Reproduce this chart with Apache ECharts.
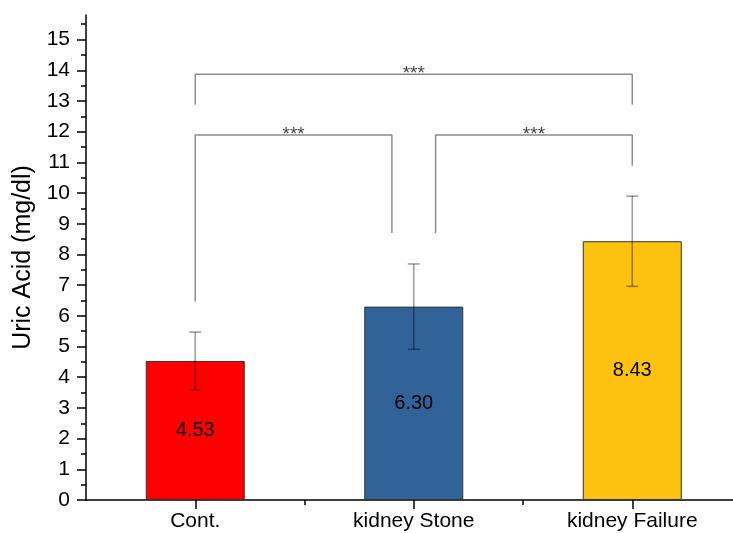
<!DOCTYPE html>
<html>
<head>
<meta charset="utf-8">
<title>Uric Acid</title>
<script src="https://cdn.jsdelivr.net/npm/echarts@6/dist/echarts.min.js"></script>
<style>
  html, body { margin: 0; padding: 0; background: #fff; }
  #chart { width: 733px; height: 533px; }
</style>
</head>
<body>
<div id="chart"></div>
<script>
// Group means and their spread
const categories = ['Cont.', 'kidney Stone', 'kidney Failure'];
const groupIndex = [0, 1, 2];
const means = [4.53, 6.30, 8.43];
const errors = [0.94, 1.39, 1.47];
const barColors = ['#FF0000', '#316399', '#FDC20F'];

// Axis ticks
const yMajorTicks = [0, 1, 2, 3, 4, 5, 6, 7, 8, 9, 10, 11, 12, 13, 14, 15];
const yMinorTicks = [0.5, 1.5, 2.5, 3.5, 4.5, 5.5, 6.5, 7.5, 8.5, 9.5, 10.5, 11.5, 12.5, 13.5, 14.5, 15.5];
const xMinorTicks = [0.5, 1.5];

// Significance brackets (x in group units, y in mg/dl)
const bracketFrom = [0, 1.1, 0];
const bracketTo = [0.9, 2, 2];
const bracketLevel = [11.89, 11.89, 13.87];
const bracketLeftFoot = [6.47, 8.70, 12.88];
const bracketRightFoot = [8.70, 10.89, 12.88];
const bracketText = ['***', '***', '***'];

const FONT = 'Liberation Sans';
const chart = echarts.init(document.getElementById('chart'), null, { renderer: 'canvas' });

const bracketSeries = bracketFrom.map((x0, i) => ({
  type: 'line',
  xAxisIndex: 0,
  yAxisIndex: 0,
  symbol: 'none',
  silent: true,
  z: 4,
  lineStyle: { color: '#8c8c8c', width: 1.5 },
  data: [
    [x0, bracketLeftFoot[i]],
    [x0, bracketLevel[i]],
    [bracketTo[i], bracketLevel[i]],
    [bracketTo[i], bracketRightFoot[i]]
  ]
}));

const starSeries = {
  type: 'scatter',
  xAxisIndex: 0,
  yAxisIndex: 0,
  symbolSize: 0,
  silent: true,
  z: 5,
  data: bracketFrom.map((x0, i) => ({
    value: [(x0 + bracketTo[i]) / 2, bracketLevel[i]],
    label: {
      show: true,
      position: 'inside',
      offset: [0, 0],
      formatter: bracketText[i],
      fontFamily: FONT,
      fontSize: 19,
      color: '#111'
    }
  }))
};

const errorSeries = {
  type: 'custom',
  xAxisIndex: 0,
  yAxisIndex: 0,
  z: 6,
  silent: true,
  data: means.map((m, i) => [groupIndex[i], m - errors[i], m + errors[i]]),
  renderItem: function (params, api) {
    const lo = api.coord([api.value(0), api.value(1)]);
    const hi = api.coord([api.value(0), api.value(2)]);
    const cap = 6;
    const style = { stroke: 'rgba(0,0,0,0.38)', lineWidth: 1.6 };
    return {
      type: 'group',
      children: [
        { type: 'line', shape: { x1: hi[0], y1: hi[1], x2: lo[0], y2: lo[1] }, style: style },
        { type: 'line', shape: { x1: hi[0] - cap, y1: hi[1], x2: hi[0] + cap, y2: hi[1] }, style: style },
        { type: 'line', shape: { x1: lo[0] - cap, y1: lo[1], x2: lo[0] + cap, y2: lo[1] }, style: style }
      ]
    };
  }
};

// The group axis runs on past the right edge of the canvas
const X_MIN = -0.5;
const X_MAX = 2.461;

const option = {
  backgroundColor: '#ffffff',
  animation: false,
  textStyle: { fontFamily: FONT },
  grid: { left: 86, top: 15, right: 0, bottom: 33, containLabel: false },
  xAxis: [
    {
      type: 'value',
      min: X_MIN,
      max: X_MAX,
      position: 'bottom',
      axisLine: { show: true, onZero: false, lineStyle: { color: '#000', width: 1.5 } },
      axisTick: { show: true, length: 9, customValues: groupIndex, lineStyle: { color: '#000', width: 1.5 } },
      axisLabel: {
        fontFamily: FONT, fontSize: 21, color: '#000', margin: 11,
        customValues: groupIndex,
        formatter: v => categories[Math.round(v)]
      },
      splitLine: { show: false }
    },
    {
      type: 'value',
      min: X_MIN,
      max: X_MAX,
      position: 'bottom',
      axisLine: { show: false, onZero: false },
      axisTick: { show: true, length: 5, customValues: xMinorTicks, lineStyle: { color: '#000', width: 1.5 } },
      axisLabel: { show: false },
      splitLine: { show: false }
    }
  ],
  yAxis: [
    {
      type: 'value',
      min: 0,
      max: 15.8,
      position: 'left',
      name: 'Uric Acid (mg/dl)',
      nameLocation: 'middle',
      nameGap: 48,
      nameTextStyle: { fontFamily: FONT, fontSize: 25, color: '#000' },
      axisLine: { show: true, onZero: false, lineStyle: { color: '#000', width: 1.5 } },
      axisTick: { show: true, length: 9, customValues: yMajorTicks, lineStyle: { color: '#000', width: 1.5 } },
      axisLabel: { fontFamily: FONT, fontSize: 21, color: '#000', margin: 16, customValues: yMajorTicks },
      splitLine: { show: false }
    },
    {
      type: 'value',
      min: 0,
      max: 15.8,
      position: 'left',
      axisLine: { show: false, onZero: false },
      axisTick: { show: true, length: 5, customValues: yMinorTicks, lineStyle: { color: '#000', width: 1.5 } },
      axisLabel: { show: false },
      splitLine: { show: false }
    }
  ],
  series: [
    {
      type: 'bar',
      xAxisIndex: 0,
      yAxisIndex: 0,
      barWidth: 99,
      z: 3,
      data: means.map((m, i) => ({ value: [groupIndex[i], m], itemStyle: { color: barColors[i] } })),
      itemStyle: { borderColor: '#333', borderWidth: 1 },
      label: {
        show: true,
        position: 'inside',
        fontFamily: FONT,
        fontSize: 20,
        color: '#000',
        formatter: p => p.value[1].toFixed(2)
      }
    },
    errorSeries,
    ...bracketSeries,
    starSeries
  ]
};

chart.setOption(option);
</script>
</body>
</html>
